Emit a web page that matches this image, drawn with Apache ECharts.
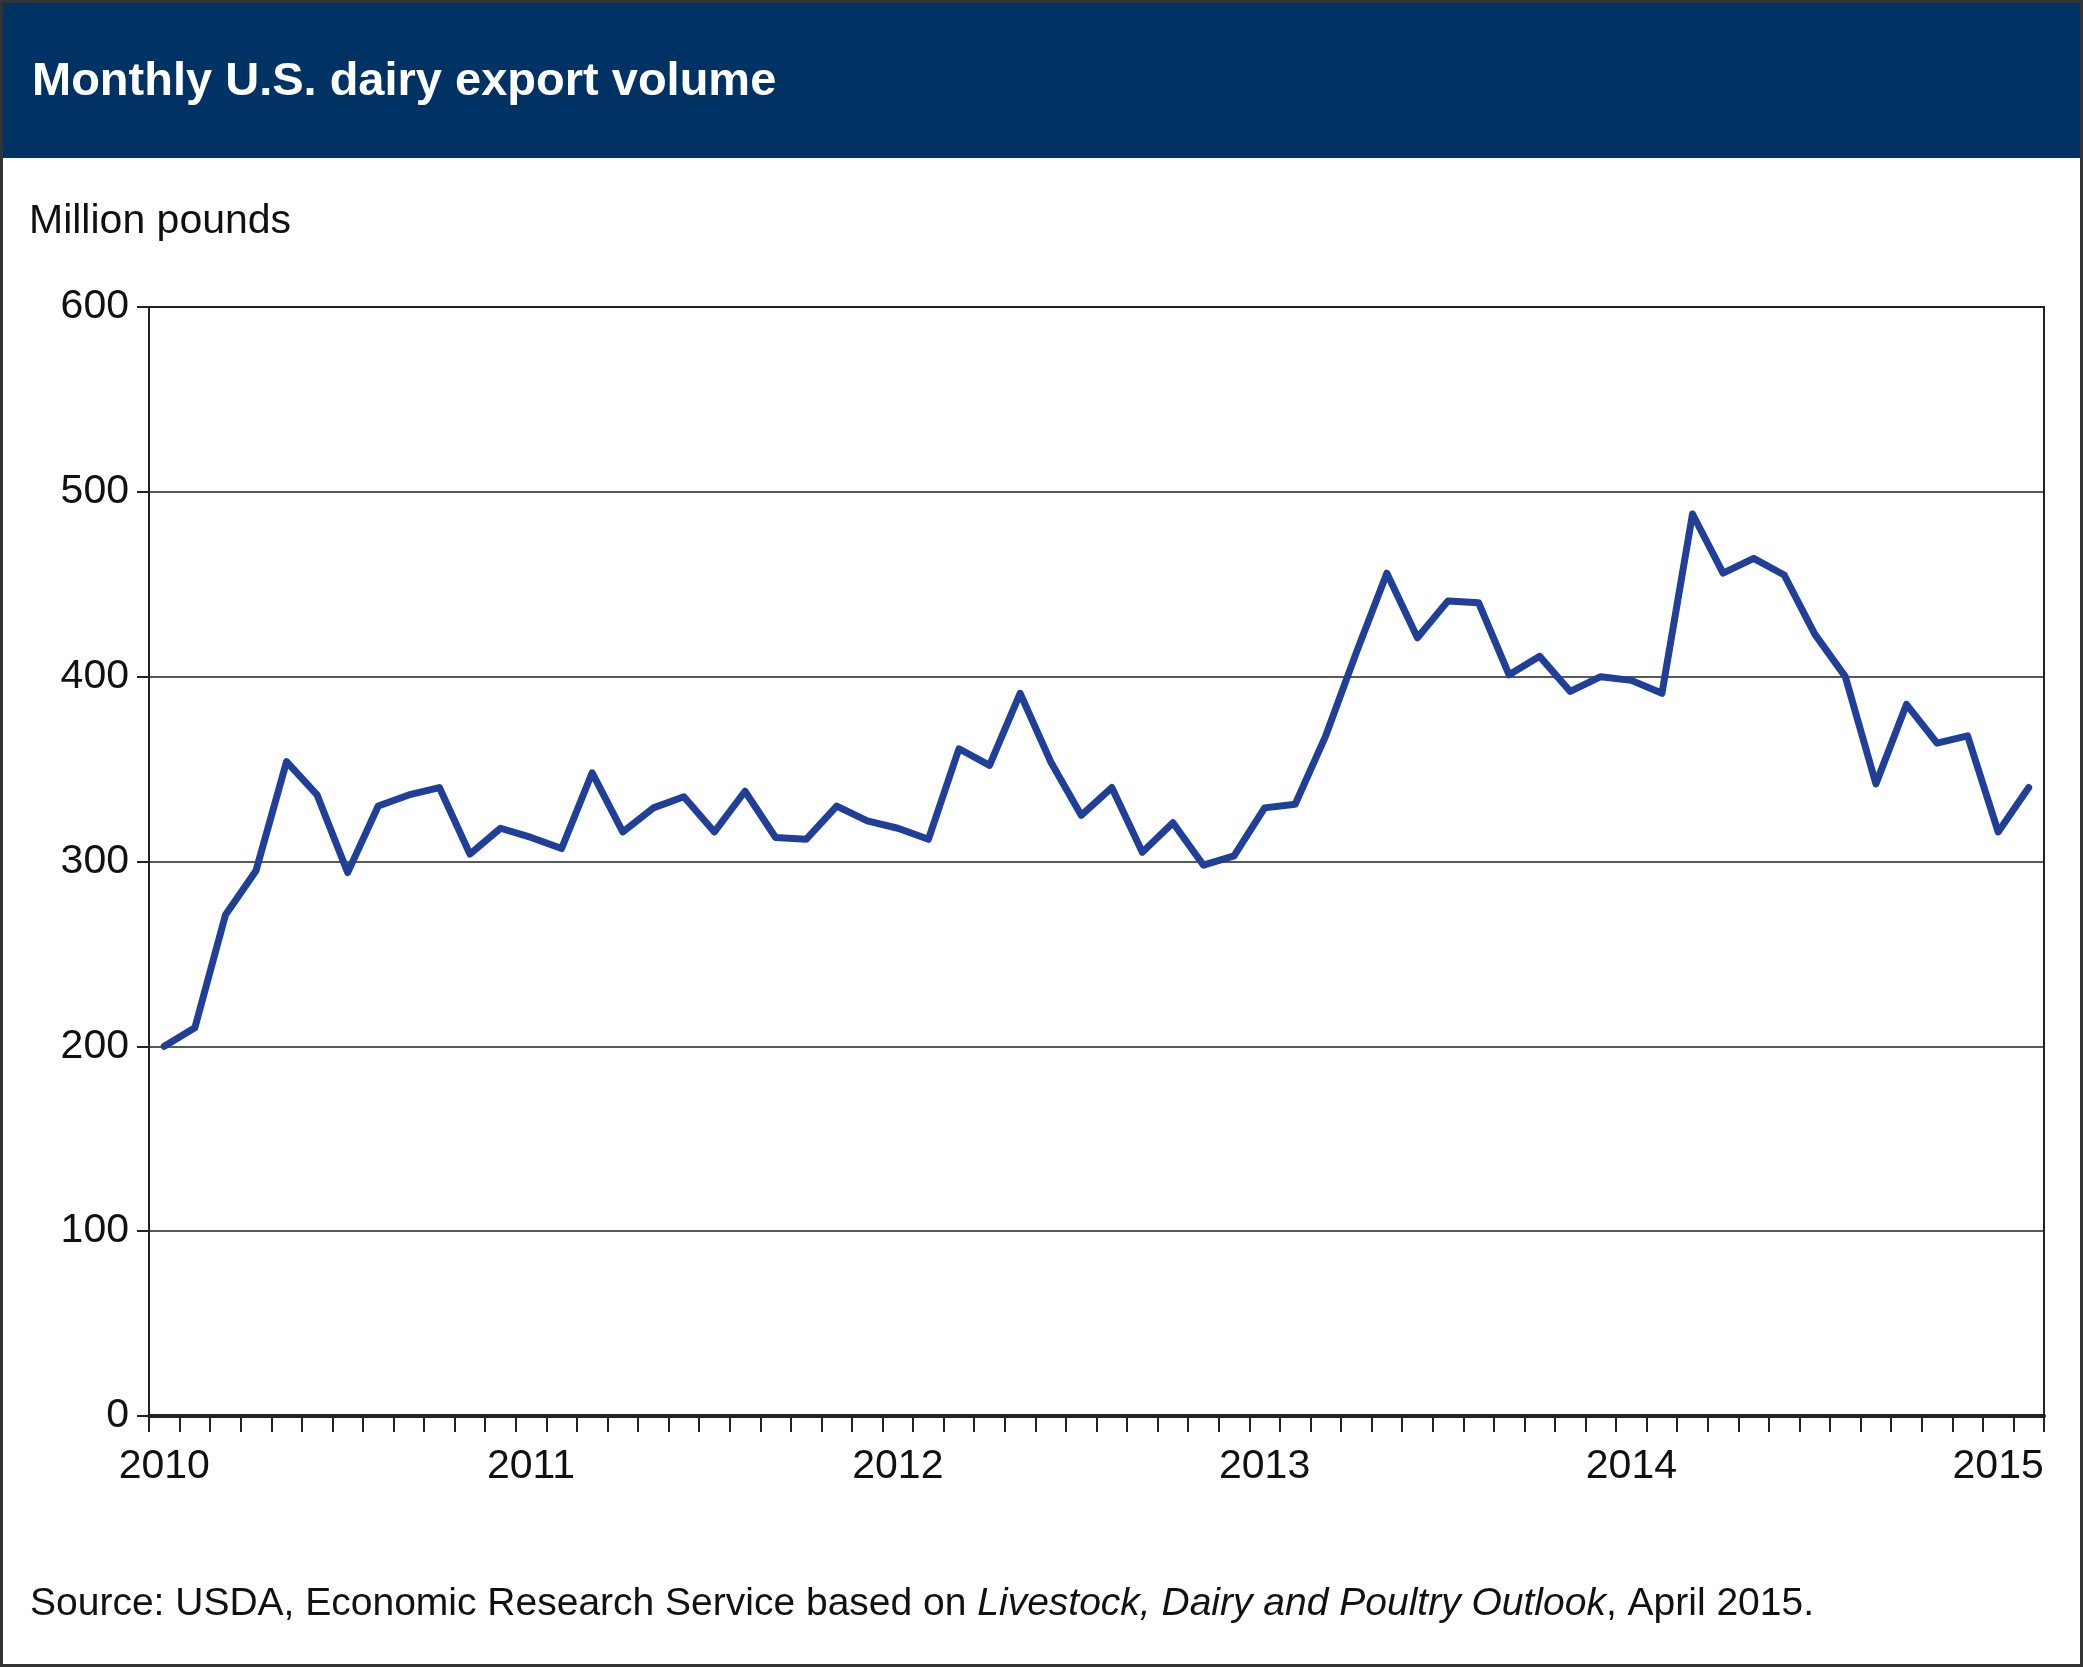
<!DOCTYPE html>
<html>
<head>
<meta charset="utf-8">
<script src="https://cdn.jsdelivr.net/npm/echarts@6/dist/echarts.min.js"></script>
<style>
  html, body { margin: 0; padding: 0; background: #fff; }
  #chart { width: 2083px; height: 1667px; box-sizing: border-box; border: 3px solid #333; }
</style>
</head>
<body>
<div id="chart"></div>
<script>
// Jan 2010 .. Feb 2015
const years = ['2010', '2011', '2012', '2013', '2014', '2015'];
const months = [];
years.forEach(function (y) {
    for (let m = 1; m <= 12; m++) {
        if (y === '2015' && m > 2) break;
        months.push(y + '-' + m);
    }
});

const exportVolume = [
    200, 210, 271, 295, 354, 336, 294, 330, 336, 340, 304, 318,
    313, 307, 348, 316, 329, 335, 316, 338, 313, 312, 330, 322,
    318, 312, 361, 352, 391, 354, 325, 340, 305, 321, 298, 303,
    329, 331, 368, 413, 456, 421, 441, 440, 401, 411, 392, 400,
    398, 391, 488, 456, 464, 455, 423, 400, 342, 385, 364, 368,
    316, 340
];

const font = 'Liberation Sans, Arial, Helvetica, sans-serif';

let option = {
    animation: false,
    backgroundColor: '#fff',
    textStyle: { fontFamily: font },
    graphic: [
        {
            type: 'rect', left: 0, top: 0,
            shape: { width: 2083, height: 155 },
            style: { fill: '#003263' }
        },
        {
            type: 'text', left: 29, top: 56,
            style: { text: 'Monthly U.S. dairy export volume', fill: '#fff', font: 'bold 47px ' + font }
        },
        {
            type: 'text', left: 26, top: 198,
            style: { text: 'Million pounds', fill: '#111', font: '41px ' + font }
        },
        {
            type: 'text', left: 27, top: 1582,
            style: {
                text: 'Source: USDA, Economic Research Service based on {i|Livestock, Dairy and Poultry Outlook}, April 2015.',
                fill: '#111', font: '39px ' + font,
                rich: { i: { fontStyle: 'italic', fontSize: 39, fontFamily: font, fill: '#111' } }
            }
        }
    ],
    grid: { left: 146, right: 36, top: 304, bottom: 248, containLabel: false, show: true, borderColor: '#222', borderWidth: 2 },
    xAxis: {
        type: 'category',
        data: months,
        boundaryGap: true,
        axisLine: { show: true, lineStyle: { color: '#222', width: 4 } },
        axisTick: { show: true, interval: 0, length: 16, lineStyle: { color: '#222', width: 2 } },
        axisLabel: {
            interval: function (i) { return i % 12 === 0; },
            formatter: function (v) { return v.split('-')[0]; },
            color: '#111', fontSize: 41, margin: 30, fontFamily: font
        },
        splitLine: { show: false }
    },
    yAxis: {
        type: 'value',
        min: 0, max: 600, interval: 100,
        axisLine: { show: false },
        axisTick: { show: true, length: 12, lineStyle: { color: '#222', width: 2 } },
        axisLabel: { color: '#111', fontSize: 41, margin: 20, fontFamily: font },
        splitLine: { show: true, lineStyle: { color: '#222', width: 1.5 } }
    },
    series: [
        {
            type: 'line',
            data: exportVolume,
            symbol: 'none',
            lineStyle: { color: '#1f3f99', width: 7, join: 'round', cap: 'round' }
        }
    ]
};

var myChart = echarts.init(document.getElementById('chart'));
myChart.setOption(option, true);
</script>
</body>
</html>
